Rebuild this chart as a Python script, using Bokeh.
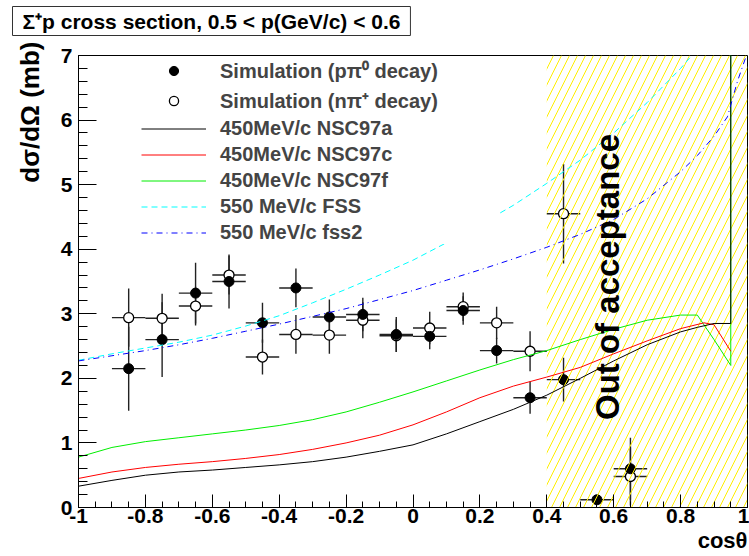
import math
from bokeh.plotting import figure
from bokeh.models import Range1d, FixedTicker, Label, Legend, LegendItem, ColumnDataSource, Title
from bokeh.embed import file_html
from bokeh.resources import INLINE

# ---------------- data ----------------
cos_bins = [-0.85, -0.75, -0.65, -0.55, -0.45, -0.35, -0.25, -0.15,
            -0.05, 0.05, 0.15, 0.25, 0.35, 0.45, 0.55, 0.65]
bin_half = 0.05
nan = float("nan")

ppi0_y = [2.15, 2.60, 3.32, 3.50, 2.86, 3.40, 2.95, 2.99,
          2.68, 2.65, 3.05, 2.43, 1.70, 1.98, 0.12, 0.60]
ppi0_err = [0.65, 0.58, 0.47, 0.42, 0.31, 0.30, 0.27, 0.26,
            0.27, 0.20, 0.22, 0.20, 0.25, 0.34, 0.00, 0.48]

npip_y = [2.94, 2.93, 3.12, 3.60, 2.33, 2.68, 2.67, 2.90,
          2.66, 2.78, 3.11, 2.86, 2.42, 4.55, nan, 0.48]
npip_err = [0.45, 0.38, 0.30, 0.30, 0.27, 0.30, 0.29, 0.28,
            0.25, 0.25, 0.22, 0.25, 0.31, 0.77, nan, 0.45]

nsc97a_x = [-1.0, -0.9, -0.8, -0.7, -0.6, -0.5, -0.4, -0.3, -0.2, -0.1, 0.0,
            0.1, 0.2, 0.3, 0.4, 0.5, 0.6, 0.7, 0.8, 0.85, 0.9, 0.95, 0.95]
nsc97a_y = [0.33, 0.42, 0.50, 0.55, 0.58, 0.62, 0.66, 0.71, 0.78, 0.87, 0.97,
            1.14, 1.33, 1.52, 1.74, 2.00, 2.27, 2.52, 2.72, 2.79, 2.85, 2.85, 7.5]

nsc97c_x = [-1.0, -0.9, -0.8, -0.7, -0.6, -0.5, -0.4, -0.3, -0.2, -0.1, 0.0,
            0.1, 0.2, 0.3, 0.4, 0.5, 0.6, 0.7, 0.8, 0.87, 0.9, 0.95]
nsc97c_y = [0.45, 0.55, 0.62, 0.67, 0.71, 0.76, 0.82, 0.90, 1.00, 1.12, 1.28,
            1.48, 1.70, 1.88, 2.02, 2.17, 2.38, 2.58, 2.77, 2.86, 2.83, 2.42]

nsc97f_x = [-1.0, -0.9, -0.8, -0.7, -0.6, -0.5, -0.4, -0.3, -0.2, -0.1, 0.0,
            0.1, 0.2, 0.3, 0.4, 0.5, 0.6, 0.7, 0.8, 0.85, 0.9, 0.95, 0.95]
nsc97f_y = [0.78, 0.93, 1.02, 1.08, 1.14, 1.20, 1.27, 1.36, 1.48, 1.63, 1.79,
            1.96, 2.13, 2.29, 2.43, 2.60, 2.76, 2.90, 2.98, 2.98, 2.60, 2.20, 7.5]

fss_x = [-1.0, -0.9, -0.8, -0.7, -0.6, -0.5, -0.4, -0.3, -0.2, -0.1, 0.0,
         0.1, 0.2, 0.3, 0.4, 0.5, 0.6, 0.7, 0.8, 0.85]
fss_y = [2.28, 2.38, 2.47, 2.56, 2.67, 2.81, 2.97, 3.17, 3.38, 3.60, 3.83,
         4.10, 4.38, 4.68, 5.02, 5.38, 5.80, 6.27, 6.80, 7.10]

fss2_x = [-1.0, -0.9, -0.8, -0.7, -0.6, -0.5, -0.4, -0.3, -0.2, -0.1, 0.0,
          0.1, 0.2, 0.3, 0.4, 0.5, 0.6, 0.7, 0.8, 0.85, 0.9, 0.94, 0.97, 1.0]
fss2_y = [2.27, 2.35, 2.43, 2.52, 2.62, 2.73, 2.84, 2.96, 3.08, 3.22, 3.36,
          3.52, 3.68, 3.85, 4.03, 4.23, 4.46, 4.78, 5.20, 5.45, 5.75, 6.05, 6.60, 7.05]

acceptance_limit = 0.4
x_ticks = [-1, -0.8, -0.6, -0.4, -0.2, 0, 0.2, 0.4, 0.6, 0.8, 1]
x_tick_labels = ["-1", "-0.8", "-0.6", "-0.4", "-0.2", "0", "0.2", "0.4", "0.6", "0.8", "1"]
y_ticks = [0, 1, 2, 3, 4, 5, 6, 7]

title_text = "Σ⁺p cross section, 0.5 < p(GeV/c) < 0.6"
x_label = "cosθ"
y_label = "dσ/dΩ (mb)"
legend_labels = ["Simulation (pπ⁰ decay)", "Simulation (nπ⁺ decay)",
                 "450MeV/c NSC97a", "450MeV/c NSC97c", "450MeV/c NSC97f",
                 "550 MeV/c FSS", "550 MeV/c fss2"]

FONT = "Liberation Sans"

# ---------------- figure ----------------
p = figure(width=749, height=556, output_backend="svg", toolbar_location=None,
           x_range=Range1d(-1, 1), y_range=Range1d(0, 7),
           min_border_left=78, min_border_right=2, min_border_top=55, min_border_bottom=49)
p.grid.visible = False
p.outline_line_color = "black"
p.outline_line_width = 1
p.background_fill_color = "white"
p.border_fill_color = "white"

x_minor = [round(-1 + 0.05 * i, 2) for i in range(41)]
y_minor = [round(0.2 * i, 1) for i in range(36)]
p.xaxis.ticker = FixedTicker(ticks=x_ticks, minor_ticks=x_minor)
p.yaxis.ticker = FixedTicker(ticks=y_ticks, minor_ticks=y_minor)
p.xaxis.major_label_overrides = {t: l for t, l in zip(x_ticks, x_tick_labels)}

for ax in (p.xaxis[0], p.yaxis[0]):
    ax.major_tick_out = 0
    ax.minor_tick_out = 0
    ax.major_label_text_font = FONT
    ax.major_label_text_font_style = "bold"
    ax.major_label_text_font_size = "21px"
    ax.major_label_text_color = "black"
    ax.axis_line_color = "black"
    ax.major_tick_line_color = "black"
    ax.minor_tick_line_color = "black"
p.xaxis.major_tick_in = 13
p.xaxis.minor_tick_in = 6
p.yaxis.major_tick_in = 18
p.yaxis.minor_tick_in = 9
p.xaxis.major_label_standoff = 1
p.yaxis.major_label_standoff = 6

# ---------------- error bars & points ----------------
src_f = ColumnDataSource(dict(
    x=cos_bins, y=ppi0_y,
    x0=[c - bin_half for c in cos_bins], x1=[c + bin_half for c in cos_bins],
    y0=[v - e for v, e in zip(ppi0_y, ppi0_err)], y1=[v + e for v, e in zip(ppi0_y, ppi0_err)]))
src_o = ColumnDataSource(dict(
    x=cos_bins, y=npip_y,
    x0=[c - bin_half for c in cos_bins], x1=[c + bin_half for c in cos_bins],
    y0=[v - e for v, e in zip(npip_y, npip_err)], y1=[v + e for v, e in zip(npip_y, npip_err)]))

for src in (src_o, src_f):
    p.segment(x0="x0", y0="y", x1="x1", y1="y", source=src, line_color="#222222", line_width=1.4)
    p.segment(x0="x", y0="y0", x1="x", y1="y1", source=src, line_color="#222222", line_width=1.4)

r_open = p.scatter("x", "y", source=src_o, marker="circle", size=10,
                   fill_color="white", line_color="black", line_width=1.3)
r_fill = p.scatter("x", "y", source=src_f, marker="circle", size=10,
                   fill_color="black", line_color="black")

# ---------------- hatched region ----------------
p.quad(left=[acceptance_limit], right=[1.0], bottom=[0], top=[7],
       fill_alpha=0, line_color=None, hatch_pattern="/", hatch_color="#ffee00",
       hatch_scale=16, hatch_weight=1)

# ---------------- theory curves ----------------
r_f = p.line(nsc97f_x, nsc97f_y, line_color="#00ee00", line_width=1)
r_c = p.line(nsc97c_x, nsc97c_y, line_color="#ff0000", line_width=1)
r_a = p.line(nsc97a_x, nsc97a_y, line_color="black", line_width=1)
r_fss = p.line(fss_x, fss_y, line_color="#00ffff", line_width=1, line_dash="6 4")
r_fss2 = p.line(fss2_x, fss2_y, line_color="#0000ff", line_width=1, line_dash="6 4 1 4")

# ---------------- legend ----------------
renderers = [r_fill, r_open, r_a, r_c, r_f, r_fss, r_fss2]
legend = Legend(items=[LegendItem(label=l, renderers=[r]) for l, r in zip(legend_labels, renderers)],
                location=(63, 263), orientation="vertical",
                label_text_font=FONT, label_text_font_style="bold", label_text_font_size="20px",
                background_fill_color="white", background_fill_alpha=1.0,
                border_line_color=None, glyph_width=65, glyph_height=23, label_height=23,
                label_standoff=14, spacing=3, padding=8, label_width=277, margin=0)
p.add_layout(legend)

# ---------------- texts ----------------
p.add_layout(Label(x=0.58, y=3.57, text="Out of acceptance", angle=math.pi / 2,
                   text_align="center", text_baseline="middle",
                   text_font=FONT, text_font_style="bold", text_font_size="33px",
                   text_color="black"))

# spacer between frame and the boxed title (panels stack outward from the frame)
p.add_layout(Title(text=" ", text_font_size="1px", standoff=17), "above")
p.add_layout(Title(text=title_text, align="left", offset=-66, standoff=0,
                   text_font=FONT, text_font_style="bold", text_font_size="21px",
                   text_color="black", background_fill_color="white",
                   border_line_color="#333333", border_line_width=1, padding=(10, 3)), "above")
p.add_layout(Title(text=y_label, align="right", offset=-14, standoff=25,
                   text_font=FONT, text_font_style="bold", text_font_size="26px",
                   text_color="black"), "left")
p.add_layout(Title(text=x_label, align="right", offset=0, standoff=0,
                   text_font=FONT, text_font_style="bold", text_font_size="22px",
                   text_color="black"), "below")

open("out.html", "w").write(file_html(p, INLINE))
